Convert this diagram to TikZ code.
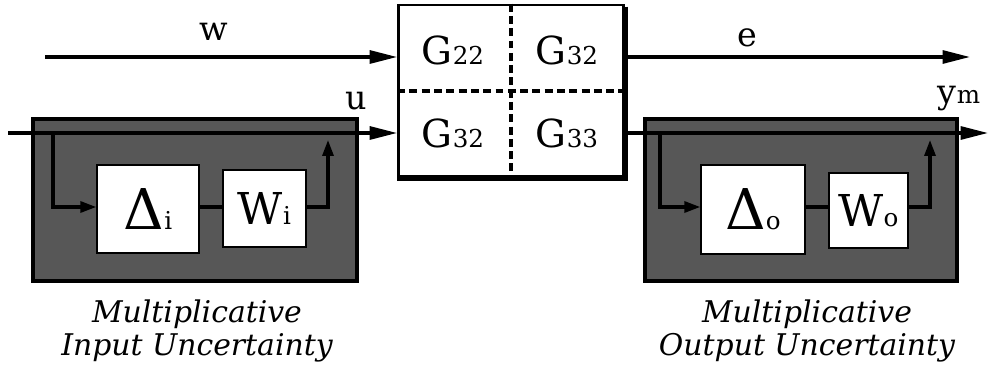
\documentclass[tikz,border=0pt]{standalone}
\usepackage{fontspec}
\setmainfont{DejaVu Serif}
\usetikzlibrary{arrows.meta,calc}

\newcommand\lowidx[1]{{\fontsize{14}{14}\selectfont #1}}

\begin{document}
\begin{tikzpicture}[x=0.02cm, y=-0.02cm,
    unc/.style={draw=black, line width=1.8pt, fill=black!66, inner sep=0pt},
    blk/.style={draw=black, line width=0.8pt, fill=white, inner sep=0pt},
    cell/.style={inner sep=0pt, font=\fontsize{22}{26}\selectfont},
    sig/.style={font=\fontsize{19}{22}\selectfont},
    captxt/.style={align=center, font=\fontsize{17}{19}\selectfont\itshape},
    arr/.style={-{Triangle[length=5.5mm,width=2.6mm]}, line width=1.8pt},
    iarr/.style={-{Triangle[length=3.2mm,width=2.2mm]}, line width=1.8pt}
]
\useasboundingbox (0,0) rectangle (994,371);

% generalized plant
\node[draw, line width=1.6pt, fill=white, minimum width=4.5cm, minimum height=3.44cm,
      inner sep=0pt] (plant) at (511,91) {};
\draw[line width=3.5pt] ($(plant.north east)+(0,3)$) -- (plant.south east)
                        -- (plant.south west);
\draw[line width=1.8pt, dash pattern=on 4.5pt off 2.5pt] (plant.north) -- (plant.south);
\draw[line width=1.8pt, dash pattern=on 4.5pt off 2.5pt] (plant.west) -- (plant.east);
\node[cell] (g22) at (453,50) {G\lowidx{22}};
\node[cell] (g23) at (567,50) {G\lowidx{32}};
\node[cell] (g32) at (453,133) {G\lowidx{32}};
\node[cell] (g33) at (567,133) {G\lowidx{33}};

% uncertainty blocks
\node[unc, minimum width=6.48cm, minimum height=3.24cm] (inunc) at (195,200) {};
\node[blk, minimum width=2.04cm, minimum height=1.76cm, font=\fontsize{32}{36}\selectfont]
     (deli) at (148,209) {Δ\lowidx{i}};
\node[blk, minimum width=1.66cm, minimum height=1.54cm, font=\fontsize{25}{30}\selectfont]
     (wi) at (264.5,208.5) {W\lowidx{i}};

\node[unc, minimum width=6.24cm, minimum height=3.24cm] (outunc) at (801,200) {};
\node[blk, minimum width=2.08cm, minimum height=1.78cm, font=\fontsize{32}{36}\selectfont]
     (delo) at (753,209.5) {Δ\lowidx{o}};
\node[blk, minimum width=1.58cm, minimum height=1.50cm, font=\fontsize{25}{30}\selectfont]
     (wo) at (868.5,210.5) {W\lowidx{o}};

% signals
\coordinate (win) at (45,57);
\coordinate (eout) at (970,57);
\coordinate (uin) at (8,133);
\coordinate (yout) at (988,133);

\draw[arr] (win) -- (win -| plant.west);
\draw[arr] (plant.east |- eout) -- (eout);
\draw[arr] (uin) -- (uin -| plant.west);
\draw[arr] (plant.east |- yout) -- (yout);

\node[sig] (wlab) at (214,32) {w};
\node[sig] (elab) at (747,38) {e};
\node[sig] (ulab) at (356,101) {u};
\node[sig] (ylab) at (959,99) {y\lowidx{m}};

% inner loops
\coordinate (itap) at (53,133);
\coordinate (isum) at (328,140);
\draw[iarr] (itap) |- (deli.west |- 0,207);
\draw[line width=1.8pt] (deli.east |- 0,207) -- (wi.west |- 0,207);
\draw[iarr] (wi.east |- 0,207) -| (isum);

\coordinate (otap) at (660,133);
\coordinate (osum) at (930,140);
\draw[iarr] (otap) |- (delo.west |- 0,207);
\draw[line width=1.8pt] (delo.east |- 0,207) -- (wo.west |- 0,207);
\draw[iarr] (wo.east |- 0,207) -| (osum);

% captions
\node[captxt] (incap) at (197,331) {Multiplicative\\Input Uncertainty};
\node[captxt] (outcap) at (807,331) {Multiplicative\\Output Uncertainty};
\end{tikzpicture}
\end{document}
